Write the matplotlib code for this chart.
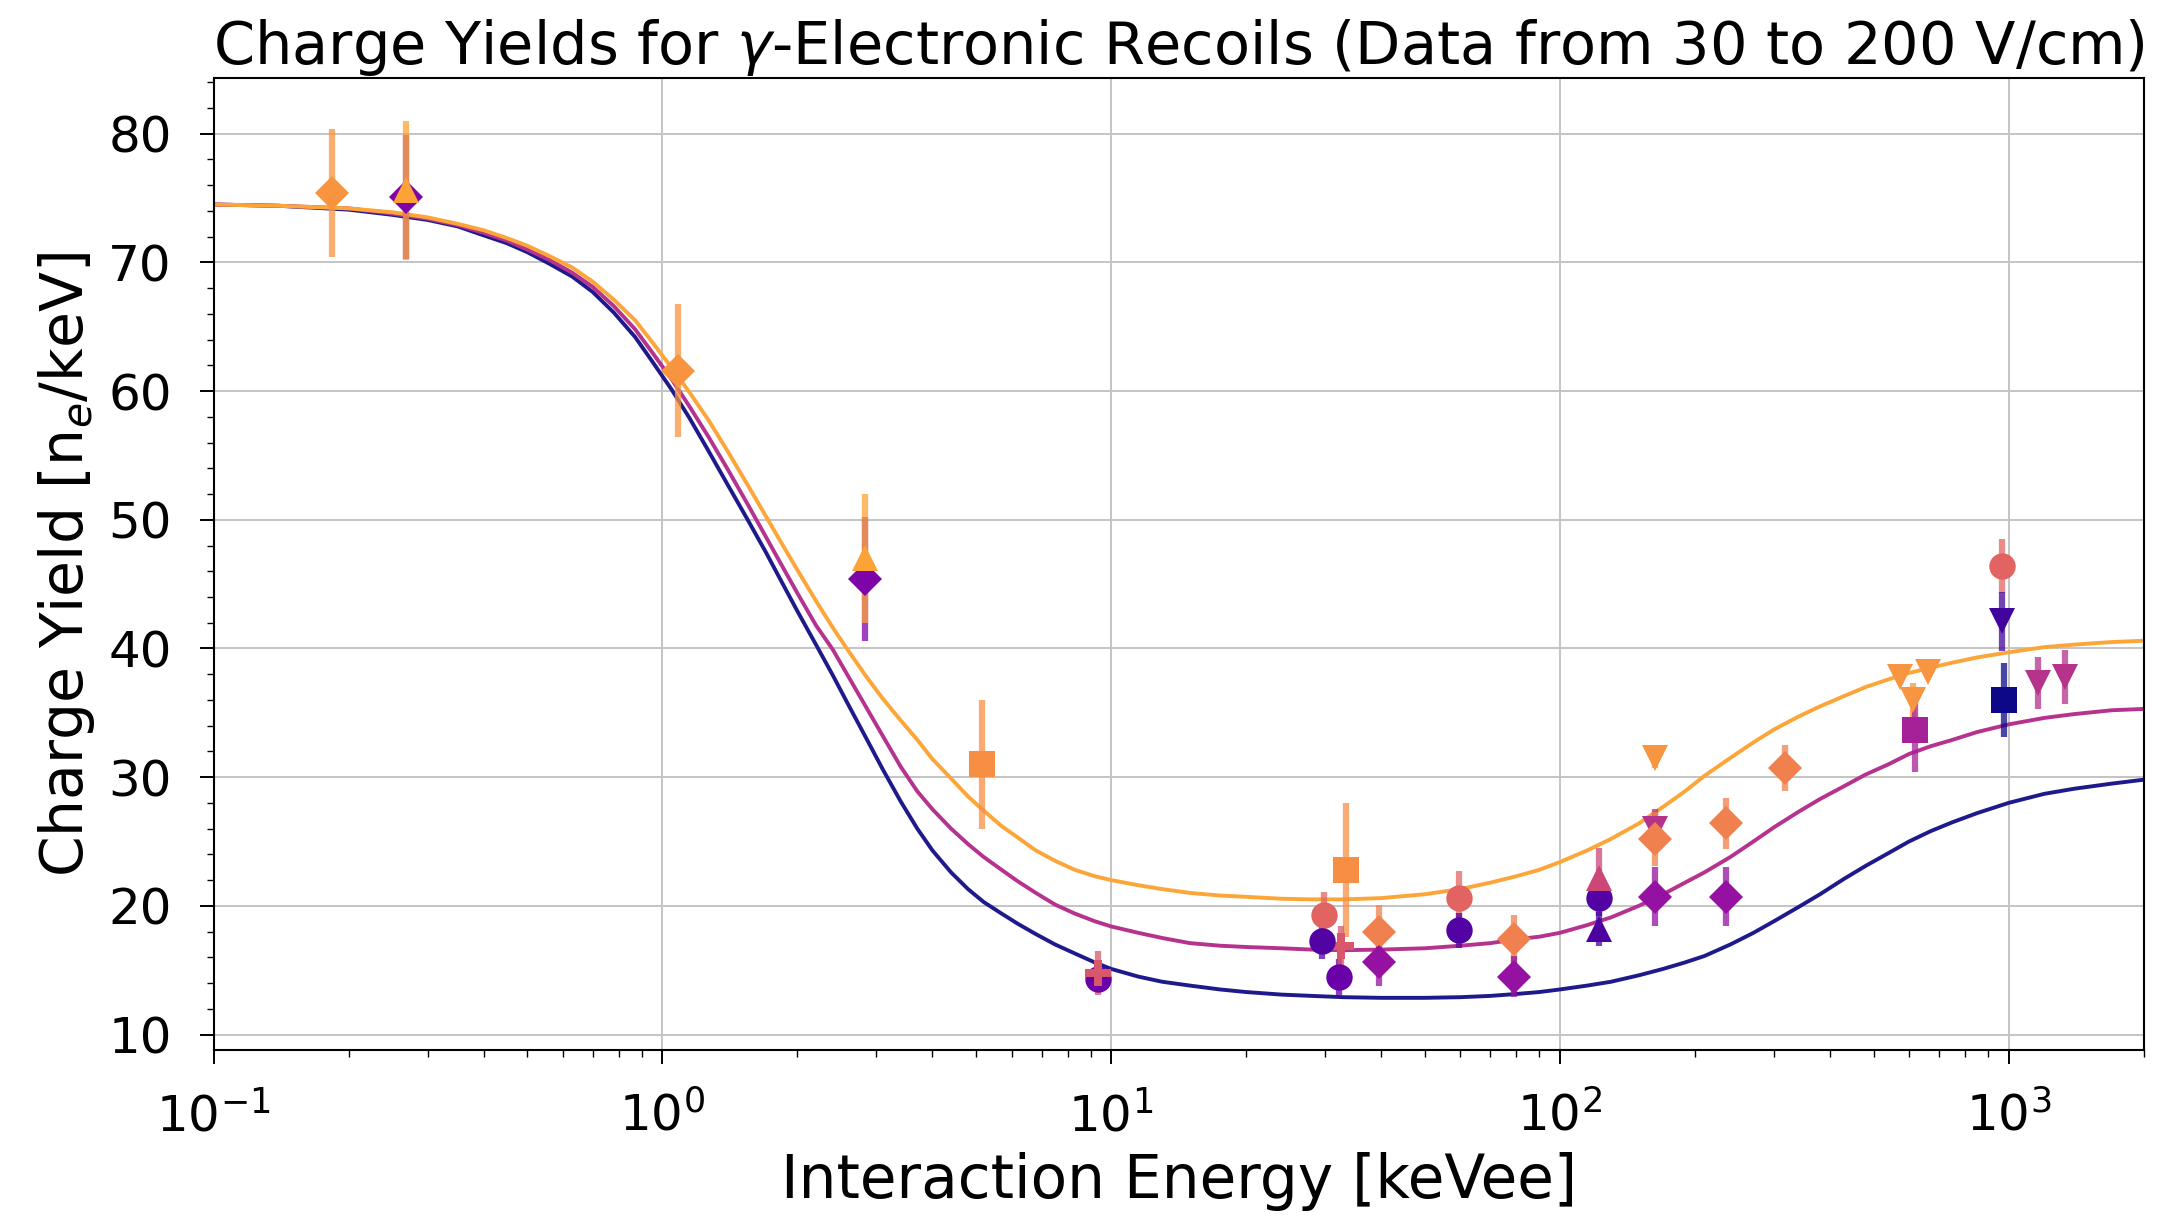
import numpy as np
import matplotlib
matplotlib.use('Agg')
import matplotlib.pyplot as plt
from matplotlib.colors import to_rgba
from matplotlib.ticker import AutoMinorLocator, LogLocator, NullFormatter

# ---- model curves ----
curve_x = [0.1, 0.14, 0.2, 0.25, 0.3, 0.35, 0.4, 0.45, 0.5, 0.56, 0.63, 0.7, 0.78, 0.87, 0.95,
           1.05, 1.15, 1.27, 1.4, 1.55, 1.7, 1.85, 2.0, 2.2, 2.4, 2.6, 2.85, 3.1, 3.4, 3.7,
           4.0, 4.4, 4.8, 5.2, 5.7, 6.2, 6.8, 7.5, 8.3, 9.2, 10, 11.5, 13, 15, 17.5, 20,
           24, 28, 33, 40, 50, 60, 70, 80, 90, 100, 115, 130, 150, 170, 190, 210, 240, 270,
           300, 340, 380, 430, 480, 540, 600, 670, 750, 850, 1000, 1200, 1400, 1700, 2000]
curve_low = [74.5, 74.4, 74.1, 73.7, 73.3, 72.8, 72.1, 71.5, 70.8, 69.9, 68.9, 67.7, 66.1, 64.2, 62.3,
             60.1, 57.9, 55.3, 52.7, 50.0, 47.5, 45.1, 42.9, 40.3, 37.9, 35.6, 33.0, 30.6, 28.1, 26.0,
             24.3, 22.6, 21.3, 20.3, 19.4, 18.6, 17.8, 17.0, 16.3, 15.6, 15.1, 14.5, 14.1, 13.8, 13.5, 13.3,
             13.1, 13.0, 12.9, 12.85, 12.85, 12.9, 13.0, 13.15, 13.3, 13.5, 13.8, 14.1, 14.6, 15.1, 15.6, 16.1, 17.0, 17.9,
             18.8, 19.9, 20.9, 22.1, 23.1, 24.1, 25.0, 25.8, 26.5, 27.2, 28.0, 28.7, 29.1, 29.5, 29.8]
curve_mid = [74.5, 74.4, 74.2, 73.8, 73.4, 72.9, 72.3, 71.7, 71.0, 70.2, 69.2, 68.1, 66.6, 64.8, 63.0,
             60.9, 58.8, 56.4, 53.9, 51.2, 48.7, 46.4, 44.3, 41.8, 39.9, 37.8, 35.4, 33.2, 30.8, 28.9,
             27.5, 26.0, 24.8, 23.8, 22.8, 21.9, 21.0, 20.1, 19.4, 18.8, 18.4, 17.9, 17.5, 17.1, 16.9, 16.8,
             16.7, 16.6, 16.55, 16.6, 16.7, 16.9, 17.1, 17.4, 17.6, 17.9, 18.5, 19.1, 20.0, 20.9, 21.8, 22.6, 23.8, 25.0,
             26.1, 27.3, 28.3, 29.3, 30.2, 31.0, 31.8, 32.4, 32.9, 33.5, 34.1, 34.6, 34.9, 35.2, 35.3]
curve_high = [74.5, 74.4, 74.2, 73.9, 73.5, 73.0, 72.5, 71.9, 71.3, 70.5, 69.6, 68.5, 67.1, 65.5, 63.8,
              61.8, 59.9, 57.7, 55.3, 52.7, 50.3, 48.1, 46.1, 43.7, 41.6, 39.8, 37.8, 36.1, 34.4, 32.9,
              31.4, 29.9, 28.5, 27.4, 26.2, 25.3, 24.3, 23.5, 22.8, 22.3, 22.0, 21.6, 21.3, 21.0, 20.8, 20.7,
              20.55, 20.5, 20.5, 20.6, 20.9, 21.3, 21.8, 22.3, 22.8, 23.4, 24.3, 25.2, 26.4, 27.7, 28.9, 30.1, 31.5, 32.7,
              33.7, 34.7, 35.5, 36.3, 37.0, 37.6, 38.1, 38.5, 38.9, 39.3, 39.7, 40.1, 40.3, 40.5, 40.6]
curve_colors = ['#1f1a8c', '#b5338f', '#fca63a']

# ---- measured points: energy [keVee], yield [n_e/keV], error ----
d1_x, d1_y, d1_e = [0.184, 1.085], [75.4, 61.6], [5.0, 5.2]
d2_x, d2_y, d2_e = [0.269, 2.83], [75.1, 45.4], [4.8, 4.8]
d3_x, d3_y, d3_e = [0.269, 2.83], [75.6, 47.0], [5.4, 5.0]
d4_x, d4_y, d4_e = [5.16, 33.3], [31.0, 22.8], [5.0, 5.2]
d5_x, d5_y, d5_e = [9.34, 32.2], [14.3, 14.5], [1.0, 1.4]
d6_x, d6_y, d6_e = [9.34, 32.5], [14.8, 16.9], [1.7, 1.5]
d7_x, d7_y, d7_e = [29.8, 59.6, 967], [19.3, 20.6, 46.4], [1.8, 2.1, 2.1]
d8_x, d8_y, d8_e = [29.5, 59.6, 122], [17.3, 18.1, 20.6], [1.4, 1.35, 1.4]
d9_x, d9_y, d9_e = [39.5, 78.9, 163, 235, 317], [18.0, 17.4, 25.2, 26.4, 30.7], [2.1, 1.9, 2.1, 2.0, 1.8]
d10_x, d10_y, d10_e = [39.5, 78.9, 163, 235], [15.6, 14.5, 20.7, 20.7], [1.8, 1.6, 2.3, 2.3]
d11_x, d11_y, d11_e = [122], [22.2], [2.3]
d12_x, d12_y, d12_e = [122], [18.2], [1.3]
d13_x, d13_y, d13_e = [163, 572, 612, 661], [31.5, 37.8, 36.0, 38.2], [0.8, 0.5, 1.3, 0.5]
d14_x, d14_y, d14_e = [163, 1162, 1333], [26.0, 37.3, 37.8], [1.5, 2.0, 2.1]
d15_x, d15_y, d15_e = [620], [33.7], [3.3]
d16_x, d16_y, d16_e = [967], [42.1], [2.3]
d17_x, d17_y, d17_e = [976], [36.0], [2.9]

datasets = [
    ('D', '#f8943f', d1_x, d1_y, d1_e),
    ('D', '#7e03a8', d2_x, d2_y, d2_e),
    ('^', '#fca236', d3_x, d3_y, d3_e),
    ('s', '#f68f44', d4_x, d4_y, d4_e),
    ('v', '#b5338a', d14_x, d14_y, d14_e),
    ('o', '#6a00a8', d5_x, d5_y, d5_e),
    ('P', '#d8576b', d6_x, d6_y, d6_e),
    ('o', '#e16462', d7_x, d7_y, d7_e),
    ('o', '#5302a3', d8_x, d8_y, d8_e),
    ('D', '#f0804e', d9_x, d9_y, d9_e),
    ('D', '#9511a1', d10_x, d10_y, d10_e),
    ('^', '#cc4778', d11_x, d11_y, d11_e),
    ('^', '#4c02a1', d12_x, d12_y, d12_e),
    ('v', '#f89540', d13_x, d13_y, d13_e),
    ('s', '#a62098', d15_x, d15_y, d15_e),
    ('v', '#41049d', d16_x, d16_y, d16_e),
    ('s', '#0d0887', d17_x, d17_y, d17_e),
]
msize = {'D': 17.5, 'o': 19, 's': 18.5, '^': 19, 'v': 19, 'P': 19}

fig = plt.figure(figsize=(21.61, 12.25), dpi=100)
ax = fig.add_axes([0.0988, 0.1429, 0.8932, 0.7931])

for cy, cc in zip([curve_low, curve_mid, curve_high], curve_colors):
    ax.plot(curve_x, cy, color=cc, lw=2.8, zorder=2)

for mk, col, x, y, e in datasets:
    ax.errorbar(x, y, yerr=e, fmt=mk, color=col, ecolor=to_rgba(col, 0.75),
                ms=msize[mk], mew=0, elinewidth=4.5, capsize=0, zorder=3)

ax.set_xscale('log')
ax.set_xlim(0.1, 2000)
ax.set_ylim(8.8, 84.3)
ax.set_yticks([10, 20, 30, 40, 50, 60, 70, 80])
ax.yaxis.set_minor_locator(AutoMinorLocator(5))
ax.xaxis.set_minor_locator(LogLocator(base=10, subs=np.arange(2, 10), numticks=20))
ax.xaxis.set_minor_formatter(NullFormatter())
ax.grid(True, which='major', color='#c4c4c4', lw=1.4)
ax.set_axisbelow(True)

ax.tick_params(which='major', labelsize=36, length=10, width=1.4, pad=20)
ax.tick_params(which='minor', length=5, width=1.0)
for sp in ax.spines.values():
    sp.set_linewidth(1.5)

ax.set_xlabel('Interaction Energy [keVee]', fontsize=43, labelpad=8)
ax.set_ylabel('Charge Yield [n$_e$/keV]', fontsize=42, labelpad=8)
ax.set_title(r'Charge Yields for $\gamma$-Electronic Recoils (Data from 30 to 200 V/cm)',
             fontsize=42.5, pad=6)

fig.savefig('out.png', dpi=100)
